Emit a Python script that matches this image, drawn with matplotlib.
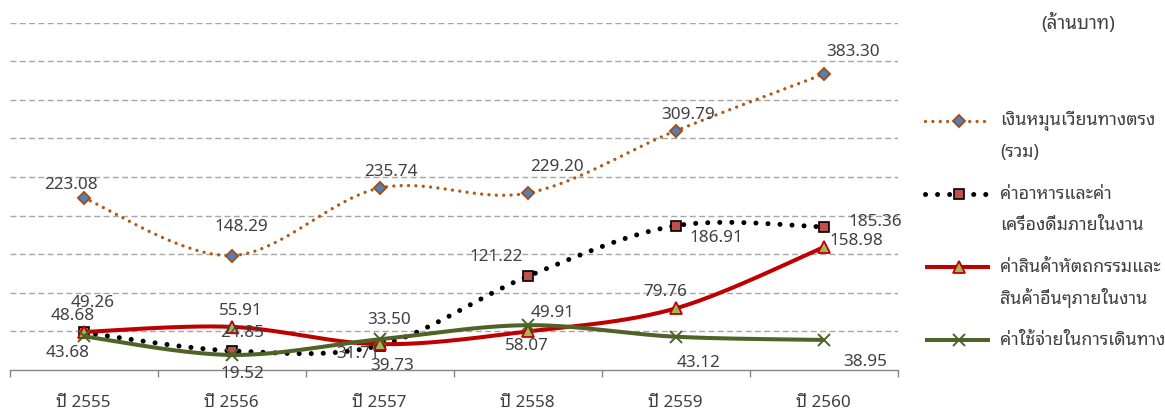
import matplotlib
matplotlib.use("Agg")
import matplotlib.pyplot as plt
from matplotlib.lines import Line2D
import numpy as np

# data (ล้านบาท)
years = ["ปี 2555", "ปี 2556", "ปี 2557", "ปี 2558", "ปี 2559", "ปี 2560"]
total = [223.08, 148.29, 235.74, 229.20, 309.79, 383.30]
food = [48.68, 24.85, 31.71, 121.22, 186.91, 185.36]
crafts = [49.26, 55.91, 33.50, 49.91, 79.76, 158.98]
travel = [43.68, 19.52, 39.73, 58.07, 43.12, 38.95]

names = [["เงินหมุนเวียนทางตรง", "(รวม)"],
         ["ค่าอาหารและค่า", "เครื่องดื่มภายในงาน"],
         ["ค่าสินค้าหัตถกรรมและ", "สินค้าอื่นๆภายในงาน"],
         ["ค่าใช้จ่ายในการเดินทาง"]]
unit = "(ล้านบาท)"

FONT = ["Noto Sans Thai Looped", "DejaVu Sans"]
plt.rcParams['font.family'] = FONT
TXT = '#404040'

W, H = 1165, 412
fig = plt.figure(figsize=(W / 100, H / 100), dpi=100)
# plot area in pixels: x 9.5..897.5, y 22.7..370
ax = fig.add_axes([9.5 / W, (H - 370) / H, 888 / W, 347.3 / H])
ax.set_xlim(-0.5, 5.5)
ax.set_ylim(0, 450)

x = np.arange(len(years))


def smooth(ax, xs, ys, n=40):
    # bezier curve through the points, computed in screen space like Excel does
    pts = ax.transData.transform(np.column_stack([xs, ys]))
    p = np.vstack([pts[0], pts, pts[-1]])
    out = []
    t = np.linspace(0, 1, n)[:, None]
    for i in range(1, len(p) - 2):
        p0, p1, p2, p3 = p[i - 1], p[i], p[i + 1], p[i + 2]
        c1 = p1 + (p2 - p0) / 6
        c2 = p2 - (p3 - p1) / 6
        seg = (1 - t) ** 3 * p1 + 3 * (1 - t) ** 2 * t * c1 + 3 * (1 - t) * t ** 2 * c2 + t ** 3 * p2
        out.append(seg)
    out = np.vstack(out)
    back = ax.transData.inverted().transform(out)
    return back[:, 0], back[:, 1]


styles = [
    dict(color='#B05A17', lw=2.4, ls=(0, (0.01, 2.2)), cap='round',
         marker='D', ms=6.5, mfc='#4F81BD', mec='#A0501A', mew=1.4),
    dict(color='black', lw=3.6, ls=(0, (0.01, 2.4)), cap='round',
         marker='s', ms=7.5, mfc='#C0504D', mec='black', mew=1.2),
    dict(color='#C00000', lw=2.9, ls='-', cap='butt',
         marker='^', ms=9, mfc='#9BBB59', mec='#C00000', mew=1.3),
    dict(color='#4F6228', lw=2.9, ls='-', cap='butt',
         marker='x', ms=9, mfc='#4F6228', mec='#4F6228', mew=1.4),
]
series = [total, food, crafts, travel]

# label offsets in pixels (dx, dy) from the marker
offsets = [
    [(-13, 13), (10, 29), (11, 16), (29, 26), (13, 16), (30, 22)],
    [(-11, 16), (11, 18), (-21, -8), (-31, 19), (41, -12), (52, 5)],
    [(9, 29), (9, 16), (10, 24), (25, 18), (-10, 16), (33, 6)],
    [(-16, -17), (11, -19), (13, -27), (-1, -21), (23, -26), (42, -22)],
]

for k, (vals, st) in enumerate(zip(series, styles)):
    sx, sy = smooth(ax, x, vals)
    ax.plot(sx, sy, color=st['color'], lw=st['lw'], ls=st['ls'],
            dash_capstyle=st['cap'], solid_capstyle='butt', zorder=3 + k)
    ax.plot(x, vals, ls='none', marker=st['marker'], ms=st['ms'], mfc=st['mfc'],
            mec=st['mec'], mew=st['mew'], zorder=3 + k)
    for xi, v, off in zip(x, vals, offsets[k]):
        ax.annotate(f"{v:.2f}", (xi, v), xytext=off, textcoords='offset pixels',
                    ha='center', va='center', fontsize=12.3, color=TXT, zorder=10)

# grid and axis
ax.set_yticks(np.arange(50, 451, 50))
ax.yaxis.grid(True, color='#A6A6A6', lw=1.0, ls=(0, (4.3, 2.4)))
ax.tick_params(axis='y', left=False, labelleft=False)
for s in ['left', 'right', 'top']:
    ax.spines[s].set_visible(False)
ax.spines['bottom'].set_color('#868686')
ax.spines['bottom'].set_linewidth(1.0)
ax.set_xticks(np.arange(-0.5, 5.6, 1))
ax.set_xticklabels([])
ax.set_xticks(x, minor=True)
ax.set_xticklabels(years, minor=True, fontsize=12.3, color=TXT)
ax.tick_params(axis='x', which='major', direction='out', length=5, width=1.0, color='#868686')
ax.tick_params(axis='x', which='minor', length=0, pad=18)
ax.set_axisbelow(True)

# legend drawn by hand
legend_y = [121, 194, 267, 340]
for k, st in enumerate(styles):
    yy = (H - legend_y[k]) / H
    fig.add_artist(Line2D([925 / W, 990 / W], [yy, yy], transform=fig.transFigure,
                          color=st['color'], lw=st['lw'], ls=st['ls'],
                          dash_capstyle=st['cap'], solid_capstyle='butt'))
    fig.add_artist(Line2D([959 / W], [yy], transform=fig.transFigure, ls='none',
                          marker=st['marker'], ms=st['ms'], mfc=st['mfc'],
                          mec=st['mec'], mew=st['mew']))
    for j, line in enumerate(names[k]):
        fig.text(1000 / W, (H - legend_y[k] - 31 * j) / H, line, ha='left',
                 va='center', fontsize=12.8, color=TXT)

fig.text(1078 / W, (H - 23) / H, unit, ha='center', va='center', fontsize=13.5, color=TXT)

fig.savefig("out.png", dpi=100)
